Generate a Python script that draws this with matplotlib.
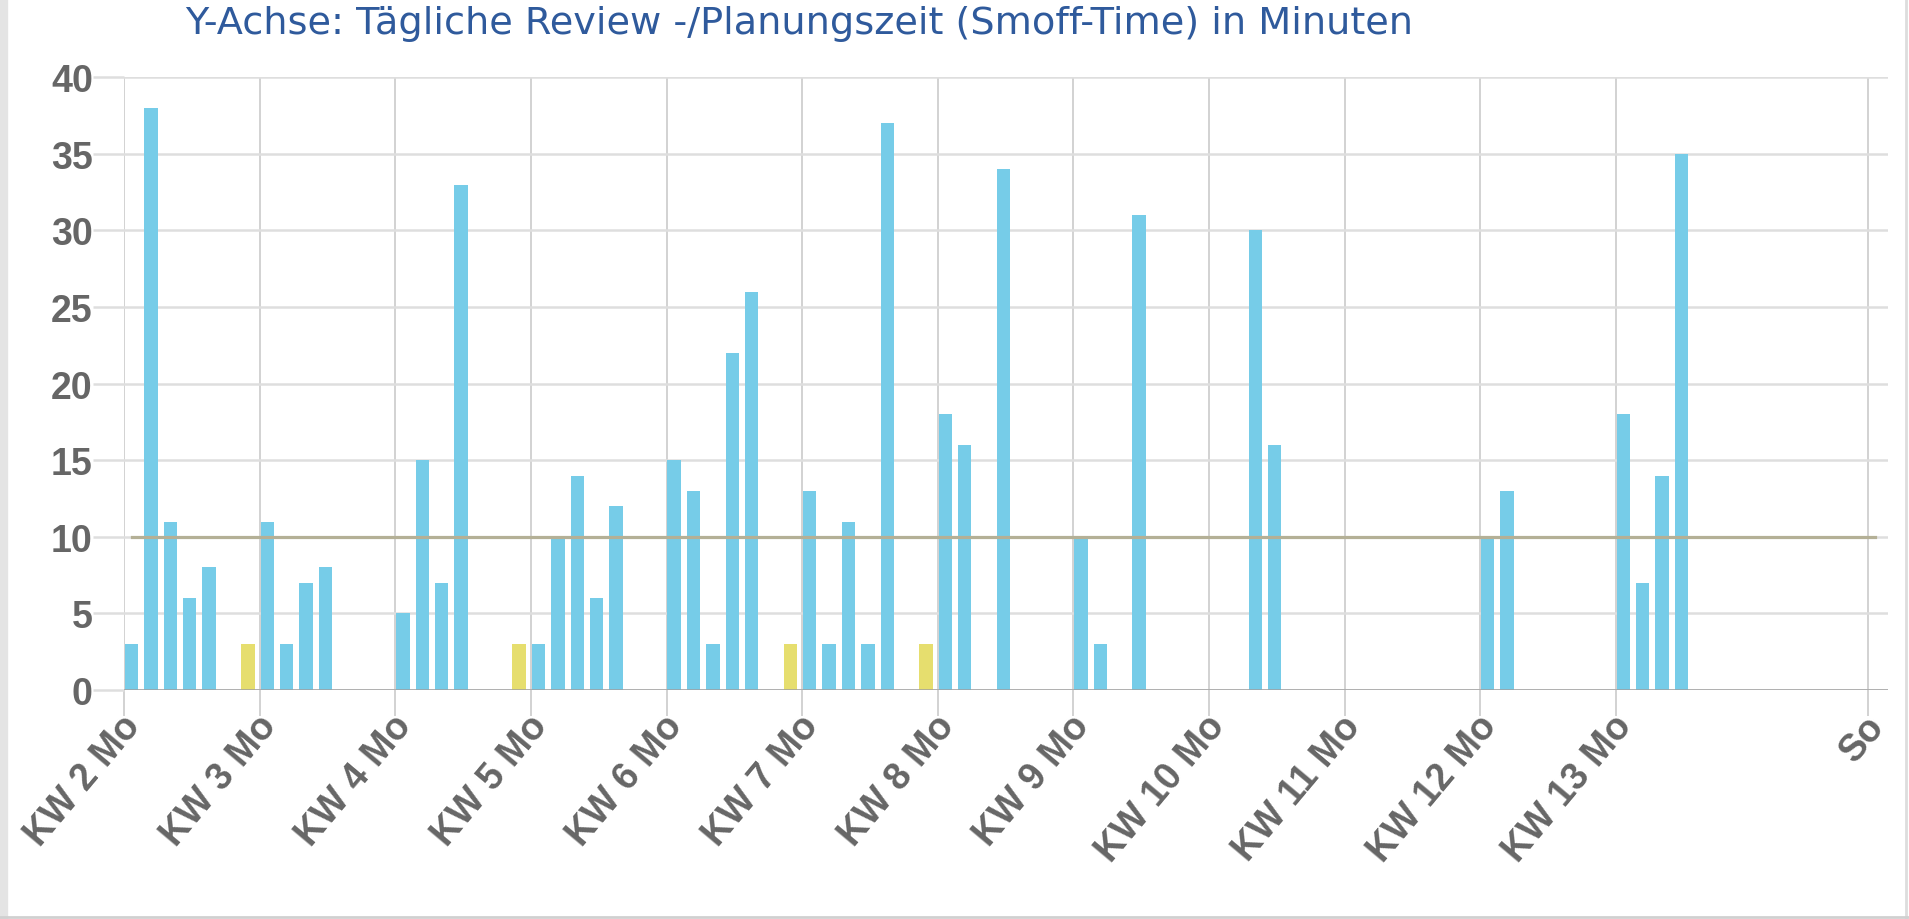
import matplotlib
matplotlib.use("Agg")
from matplotlib import pyplot as plt
from matplotlib.transforms import ScaledTranslation
from matplotlib.lines import Line2D
import numpy as np

# Tage seit KW 2 Montag
tage = [0, 1, 2, 3, 4, 6, 7, 8, 9, 10, 14, 15, 16, 17, 20, 21, 22, 23, 24, 25,
        28, 29, 30, 31, 32, 34, 35, 36, 37, 38, 39, 41, 42, 43, 45, 49, 50, 52,
        58, 59, 70, 71, 77, 78, 79, 80]
minuten = [3, 38, 11, 6, 8, 3, 11, 3, 7, 8, 5, 15, 7, 33, 3, 3, 10, 14, 6, 12,
           15, 13, 3, 22, 26, 3, 13, 3, 11, 3, 37, 3, 18, 16, 34, 10, 3, 31,
           30, 16, 10, 13, 18, 7, 14, 35]
sonntag = [0, 0, 0, 0, 0, 1, 0, 0, 0, 0, 0, 0, 0, 0, 1, 0, 0, 0, 0, 0,
           0, 0, 0, 0, 0, 1, 0, 0, 0, 0, 0, 1, 0, 0, 0, 0, 0, 0,
           0, 0, 0, 0, 0, 0, 0, 0]
ziel = 10
letzter_tag = 90

tick_tage = [0, 7, 14, 21, 28, 35, 42, 49, 56, 63, 70, 77, 90]
tick_labels = ["KW 2 Mo", "KW 3 Mo", "KW 4 Mo", "KW 5 Mo", "KW 6 Mo", "KW 7 Mo",
               "KW 8 Mo", "KW 9 Mo", "KW 10 Mo", "KW 11 Mo", "KW 12 Mo",
               "KW 13 Mo", "So"]

blau = "#76CCE8"
gelb = "#E6DE6E"
grau = "#666666"
schrift = "Liberation Sans"

fig = plt.figure(figsize=(19.09, 9.2), dpi=100)
ax = fig.add_axes([0.0650, 0.2489, 0.9240, 0.6660])

x = np.array(tage) + 0.39
farben = [gelb if s else blau for s in sonntag]
ax.bar(x, minuten, width=0.69, color=farben, zorder=2)

# Ziellinie
ax.plot(np.arange(letzter_tag + 1) + 0.39, [ziel] * (letzter_tag + 1),
        color="#B4B096", lw=2.3, zorder=3)

ax.set_xlim(0, 91.05)
ax.set_ylim(0, 40)
ax.set_yticks(range(0, 41, 5))
ax.set_xticks(tick_tage)
ax.set_xticklabels(tick_labels)

ax.grid(axis="y", color="#DEDEDE", lw=1.8, zorder=0)
ax.grid(axis="x", color="#D2D2D2", lw=1.4, zorder=0)
ax.axhline(0, color="#A0A0A0", lw=1.8, zorder=4)
for s in ax.spines.values():
    s.set_visible(False)

ax.tick_params(axis="y", length=22.5, width=1.8, color="#DEDEDE", pad=0,
               labelsize=27, labelcolor=grau)
ax.tick_params(axis="x", length=18.5, width=1.4, color="#D2D2D2", pad=2,
               labelsize=27, labelcolor=grau)
for lab in ax.get_yticklabels():
    lab.set_fontfamily(schrift)
    lab.set_fontweight("bold")
for lab in ax.get_xticklabels():
    lab.set_fontfamily(schrift)
    lab.set_fontweight("bold")
    lab.set_rotation(50)
    lab.set_ha("right")
    lab.set_va("center")
    lab.set_rotation_mode("anchor")
    lab.set_transform(lab.get_transform() + ScaledTranslation(10 / 100, -1 / 100, fig.dpi_scale_trans))

fig.text(185 / 1909, 1 - 34 / 920,
         "Y-Achse: Tägliche Review -/Planungszeit (Smoff-Time) in Minuten",
         fontsize=27.5, color="#2F5A9C", family="DejaVu Sans", va="baseline", ha="left")

# Rahmen des Screenshots
fig.add_artist(Line2D([0.002, 0.002], [0, 1], transform=fig.transFigure, color="#E4E4E4", lw=6))
fig.add_artist(Line2D([0.9985, 0.9985], [0, 1], transform=fig.transFigure, color="#DDDDDD", lw=2))
fig.add_artist(Line2D([0, 1], [0.002, 0.002], transform=fig.transFigure, color="#D0D0D0", lw=2))

fig.savefig("out.png", dpi=100)
